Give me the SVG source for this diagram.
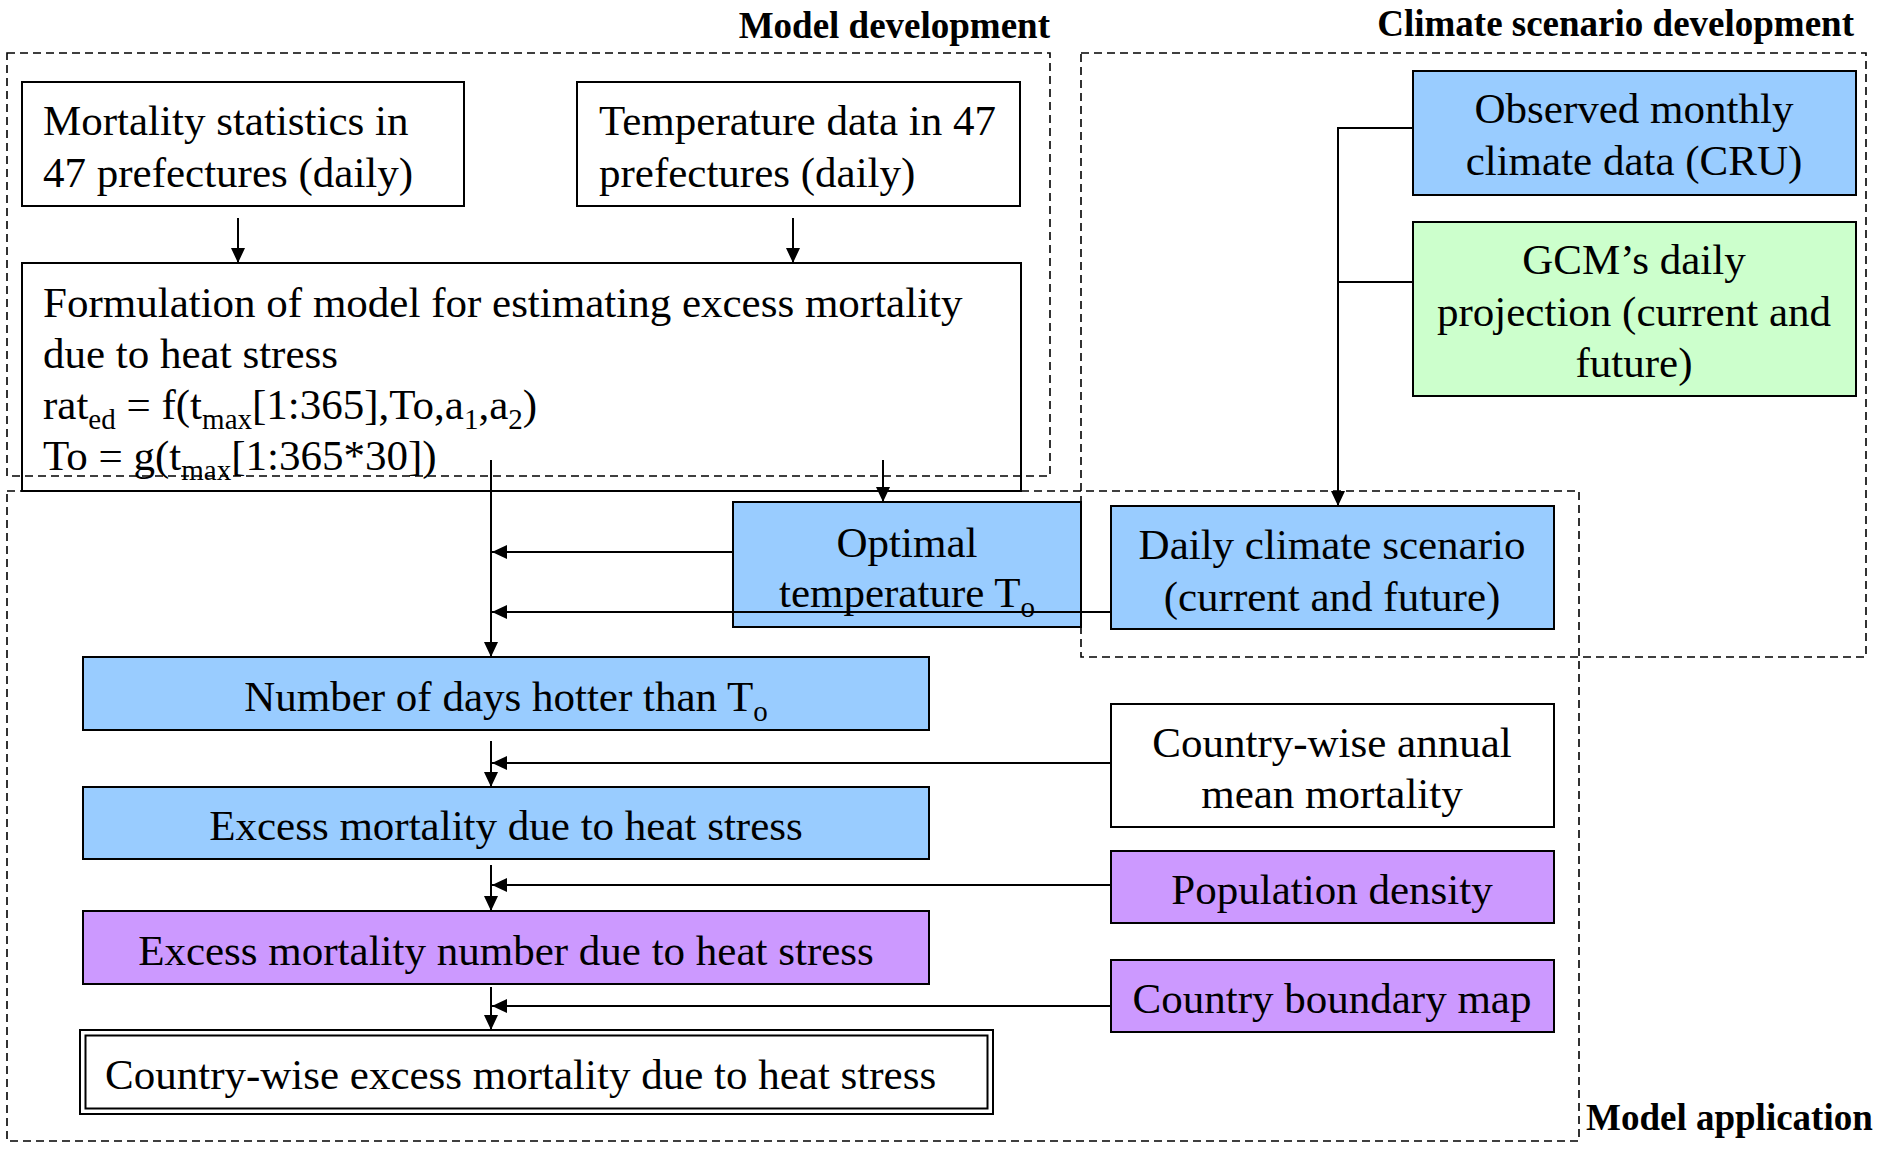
<svg xmlns="http://www.w3.org/2000/svg" width="1877" height="1151" viewBox="0 0 1877 1151">
<defs>
<marker id="ah" markerUnits="userSpaceOnUse" markerWidth="16" markerHeight="14" refX="15" refY="7" orient="auto">
<path d="M0,0 L15,7 L0,14 Z" fill="#000"/>
</marker>
<style>
text{font-family:"Liberation Serif","Times New Roman",serif;fill:#000}
.t{font-size:43px}
.c{text-anchor:middle}
.h{font-size:37px;font-weight:bold}
.s{font-size:29px}
.box{stroke:#000;stroke-width:2}
.w{fill:#fff}
.n{fill:none}
.blue{fill:#99ccff}
.green{fill:#ccffcc}
.purple{fill:#cc99ff}
.dash{fill:none;stroke:#000;stroke-width:1.6;stroke-dasharray:8 5}
.ln{fill:none;stroke:#000;stroke-width:2}
.ar{fill:none;stroke:#000;stroke-width:2;marker-end:url(#ah)}
</style>
</defs>
<rect width="1877" height="1151" fill="#fff"/>

<g id="nodes">
<g id="mortality">
<rect class="box w" x="22" y="82" width="442" height="124"/>
<text class="t" x="43" y="135">Mortality statistics in</text>
<text class="t" x="43" y="187">47 prefectures (daily)</text>
</g>
<g id="temperature">
<rect class="box w" x="577" y="82" width="443" height="124"/>
<text class="t" x="599" y="135">Temperature data in 47</text>
<text class="t" x="599" y="187">prefectures (daily)</text>
</g>
<g id="formulation">
<rect class="box n" x="22" y="263" width="999" height="228"/>
<text class="t" x="43" y="317">Formulation of model for estimating excess mortality</text>
<text class="t" x="43" y="368">due to heat stress</text>
<text class="t" x="43" y="419">rat<tspan class="s" dy="10">ed</tspan><tspan dy="-10"> = f(t</tspan><tspan class="s" dy="10">max</tspan><tspan dy="-10">[1:365],To,a</tspan><tspan class="s" dy="10">1</tspan><tspan dy="-10">,a</tspan><tspan class="s" dy="10">2</tspan><tspan dy="-10">)</tspan></text>
<text class="t" x="43" y="470">To = g(t<tspan class="s" dy="10">max</tspan><tspan dy="-10">[1:365*30])</tspan></text>
</g>
<g id="optimal">
<rect class="box blue" x="733" y="502" width="348" height="125"/>
<text class="t c" x="907" y="557">Optimal</text>
<text class="t c" x="907" y="607">temperature T<tspan class="s" dy="10">o</tspan></text>
</g>
<g id="observed">
<rect class="box blue" x="1413" y="71" width="443" height="124"/>
<text class="t c" x="1634" y="123">Observed monthly</text>
<text class="t c" x="1634" y="175">climate data (CRU)</text>
</g>
<g id="gcm">
<rect class="box green" x="1413" y="222" width="443" height="174"/>
<text class="t c" x="1634" y="274">GCM’s daily</text>
<text class="t c" x="1634" y="326">projection (current and</text>
<text class="t c" x="1634" y="377">future)</text>
</g>
<g id="daily">
<rect class="box blue" x="1111" y="506" width="443" height="123"/>
<text class="t c" x="1332" y="559">Daily climate scenario</text>
<text class="t c" x="1332" y="611">(current and future)</text>
</g>
<g id="days">
<rect class="box blue" x="83" y="657" width="846" height="73"/>
<text class="t c" x="506" y="711">Number of days hotter than T<tspan class="s" dy="10">o</tspan></text>
</g>
<g id="annual">
<rect class="box w" x="1111" y="704" width="443" height="123"/>
<text class="t c" x="1332" y="757">Country-wise annual</text>
<text class="t c" x="1332" y="808">mean mortality</text>
</g>
<g id="excess">
<rect class="box blue" x="83" y="787" width="846" height="72"/>
<text class="t c" x="506" y="840">Excess mortality due to heat stress</text>
</g>
<g id="population">
<rect class="box purple" x="1111" y="851" width="443" height="72"/>
<text class="t c" x="1332" y="904">Population density</text>
</g>
<g id="excessnum">
<rect class="box purple" x="83" y="911" width="846" height="73"/>
<text class="t c" x="506" y="965">Excess mortality number due to heat stress</text>
</g>
<g id="boundary">
<rect class="box purple" x="1111" y="960" width="443" height="72"/>
<text class="t c" x="1332" y="1013">Country boundary map</text>
</g>
<g id="countrywise">
<rect class="box w" x="80" y="1030" width="913" height="84"/>
<rect class="box n" x="85.5" y="1035.5" width="902" height="73"/>
<text class="t" x="105" y="1089">Country-wise excess mortality due to heat stress</text>
</g>
</g>

<g id="groups">
<rect class="dash" x="7" y="53" width="1043" height="423"/>
<rect class="dash" x="1081" y="53" width="785" height="604"/>
<rect class="dash" x="7" y="491" width="1572" height="650"/>
<text class="h" x="1050" y="38" text-anchor="end">Model development</text>
<text class="h" x="1854" y="36" text-anchor="end">Climate scenario development</text>
<text class="h" x="1586" y="1130">Model application</text>
</g>

<g id="connectors">
<line class="ar" x1="238" y1="218" x2="238" y2="263"/>
<line class="ar" x1="793" y1="218" x2="793" y2="263"/>
<line class="ar" x1="491" y1="460" x2="491" y2="657"/>
<line class="ar" x1="883" y1="460" x2="883" y2="502"/>
<line class="ar" x1="733" y1="552" x2="492" y2="552"/>
<line class="ar" x1="1111" y1="612" x2="492" y2="612"/>
<polyline class="ln" points="1413,128 1338,128 1338,282 1413,282"/>
<line class="ar" x1="1338" y1="282" x2="1338" y2="506"/>
<line class="ar" x1="491" y1="741" x2="491" y2="787"/>
<line class="ar" x1="1111" y1="763" x2="492" y2="763"/>
<line class="ar" x1="491" y1="865" x2="491" y2="911"/>
<line class="ar" x1="1111" y1="885" x2="492" y2="885"/>
<line class="ar" x1="491" y1="987" x2="491" y2="1030"/>
<line class="ar" x1="1111" y1="1006" x2="492" y2="1006"/>
</g>
</svg>
